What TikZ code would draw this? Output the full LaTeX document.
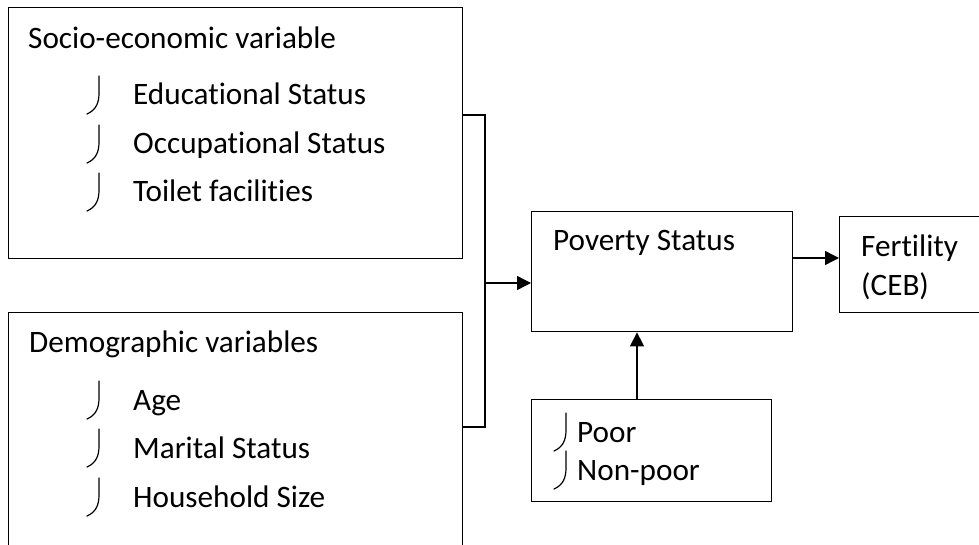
\documentclass[tikz,border=0pt]{standalone}
\usepackage{fontspec}
\setmainfont{Carlito}[Ligatures=NoCommon]
\usetikzlibrary{arrows.meta, positioning}

\tikzset{
  box/.style={draw, line width=1.4pt, inner sep=0pt, anchor=north west},
  lbl/.style={anchor=base west, inner sep=0pt},
  link/.style={line width=1.4pt},
  arr/.style={line width=1.4pt, -{Triangle[length=14pt, width=14pt]}},
  hook/.style={line width=1.2pt, line cap=round},
}

% curved bullet in front of a list item
\newcommand{\hookat}[2]{%
  \draw[hook, shift={(#1.base west)}] (-#2,-29) -- (-#2,-12)
    .. controls (-#2,-2) and (-#2-3,5) .. (-#2-12,9);}

\begin{document}
\begin{tikzpicture}[x=1pt, y=-1pt, font=\fontsize{31.2pt}{36pt}\selectfont]

\useasboundingbox (0,0) rectangle (979,545);
\clip (0,0) rectangle (979,545);

% boxes
\node[box, minimum width=454pt, minimum height=251pt] (socio) at (8,7) {};
\node[box, minimum width=454pt, minimum height=260pt] (demo) at (8,312) {};
\node[box, minimum width=261pt, minimum height=120pt] (pov) at (531,211) {};
\node[box, minimum width=160pt, minimum height=96pt] (fert) at (839,216) {};
\node[box, minimum width=240pt, minimum height=102pt] (poor) at (531,399) {};

% socio-economic
\node[lbl] (sociot) at (28,49) {Socio-economic variable};
\node[lbl] (edu) at (133,105) {Educational Status};
\node[lbl] (occ) at (133,154) {Occupational Status};
\node[lbl] (toi) at (133,202) {Toilet facilities};
\hookat{edu}{34} \hookat{occ}{34} \hookat{toi}{34}

% demographic
\node[lbl] (demot) at (29,352) {Demographic variables};
\node[lbl] (age) at (133,410) {Age};
\node[lbl] (mar) at (133,458) {Marital Status};
\node[lbl] (hou) at (133,507) {Household Size};
\hookat{age}{34} \hookat{mar}{34} \hookat{hou}{34}

% poverty, fertility
\node[lbl] (povt) at (553,251) {Poverty Status};
\node[lbl] (fertt) at (861,257) {Fertility};
\node[lbl] (ceb) at (861,295) {(CEB)};

% poor / non-poor
\node[lbl] (poort) at (577,442) {Poor};
\node[lbl] (nonp) at (577,480) {Non-poor};
\hookat{poort}{11} \hookat{nonp}{11}

% connectors
\coordinate (jtop) at (485,115);
\coordinate (jbot) at (485,427);
\coordinate (jmid) at (485,283);
\coordinate (pf) at (815,258);
\coordinate (pp) at (637,365);
\draw[link] (socio.east |- jtop) -- (jtop) -- (jbot) -- (demo.east |- jbot);
\draw[arr] (jmid) -- (jmid -| pov.west);
\draw[arr] (pf -| pov.east) -- (pf -| fert.west);
\draw[arr] (pp |- poor.north) -- (pp |- pov.south);

\end{tikzpicture}
\end{document}
